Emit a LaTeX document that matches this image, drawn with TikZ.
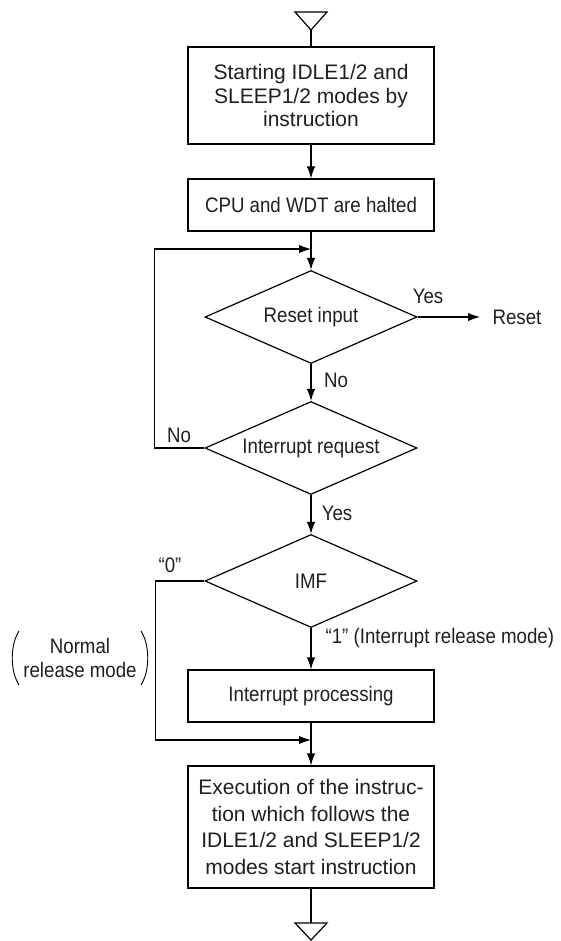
\documentclass[tikz,border=0pt]{standalone}
\usepackage{fontspec}
\setmainfont{Liberation Sans}
\newfontfamily\condfont[FakeStretch=0.89]{Liberation Sans}
\usetikzlibrary{arrows.meta,shapes.geometric}
\begin{document}
\begin{tikzpicture}[x=1pt,y=1pt,
  line width=1.2pt,
  every node/.style={font=\condfont\fontsize{21}{24.5}\selectfont, text=black!88},
  box/.style={draw, minimum width=246pt, align=center, inner sep=0pt},
  bigtext/.style={font=\normalfont\fontsize{21}{23.5}\selectfont},
  dec/.style={draw, diamond, aspect=2.28, minimum width=212pt, minimum height=93pt, inner sep=0pt},
  arr/.style={-{Latex[length=12pt,width=8.5pt]}},
  lbl/.style={inner sep=0pt}]
\useasboundingbox (0,0) rectangle (561,-941);
% terminals
\draw[line join=miter] (295,-12) -- (327,-12) -- (311,-30) -- cycle;
\coordinate (t1) at (311,-30);
\coordinate (t2) at (311,-923);
\draw[line join=miter] (295,-923) -- (327,-923) -- (311,-940) -- cycle;
% nodes
\node[box, bigtext, minimum height=97pt] (b1) at (311,-95.5) {Starting IDLE1/2 and\\SLEEP1/2 modes by\\instruction};
\node[box, minimum height=52pt] (b2) at (311,-205) {CPU and WDT are halted};
\node[dec] (d1) at (311,-317) {Reset input};
\node[dec] (d2) at (311,-448) {Interrupt request};
\node[dec] (d3) at (311,-581) {IMF};
\node[box, minimum height=52pt] (b3) at (311,-696) {Interrupt processing};
\node[box, font=\normalfont\fontsize{21}{26.6}\selectfont, minimum height=122pt] (b4) at (311,-827) {Execution of the instruc-\\tion which follows the\\IDLE1/2 and SLEEP1/2\\modes start instruction};
% connectors
\draw (t1) -- (b1.north);
\draw[arr] (b1) -- (b2);
\draw[arr] (b2) -- (d1);
\draw[arr] (d1) -- (d2);
\draw[arr] (d2) -- (d3);
\draw[arr] (d3) -- (b3);
\draw[arr] (b3) -- (b4);
\draw (b4.south) -- (t2);
\coordinate (m1) at (311,-249);
\coordinate (m2) at (311,-740);
\coordinate (re) at (480,-317);
\draw[arr] (d2.west) -- ++(-50,0) |- (m1);
\draw[arr] (d3.west) -- ++(-49,0) |- (m2);
\draw[arr] (d1.east) -- (re);
% labels
\node[lbl, anchor=west] (rst) at (492,-317) {Reset};
\node[lbl] (y1) at (428,-296) {Yes};
\node[lbl] (n1) at (336,-380) {No};
\node[lbl] (n2) at (179,-435) {No};
\node[lbl] (y2) at (337,-513) {Yes};
\node[lbl] (z0) at (170,-565) {“0”};
\node[lbl, anchor=west] (o1) at (325,-638) {“1” (Interrupt release mode)};
\node[lbl, align=center] (nrm) at (80,-658) {Normal\\release mode};
\draw[line width=0.9pt] (19,-631) .. controls (10,-645) and (10,-671) .. (19,-685);
\draw[line width=0.9pt] (141,-631) .. controls (150,-645) and (150,-671) .. (141,-685);
\end{tikzpicture}
\end{document}
